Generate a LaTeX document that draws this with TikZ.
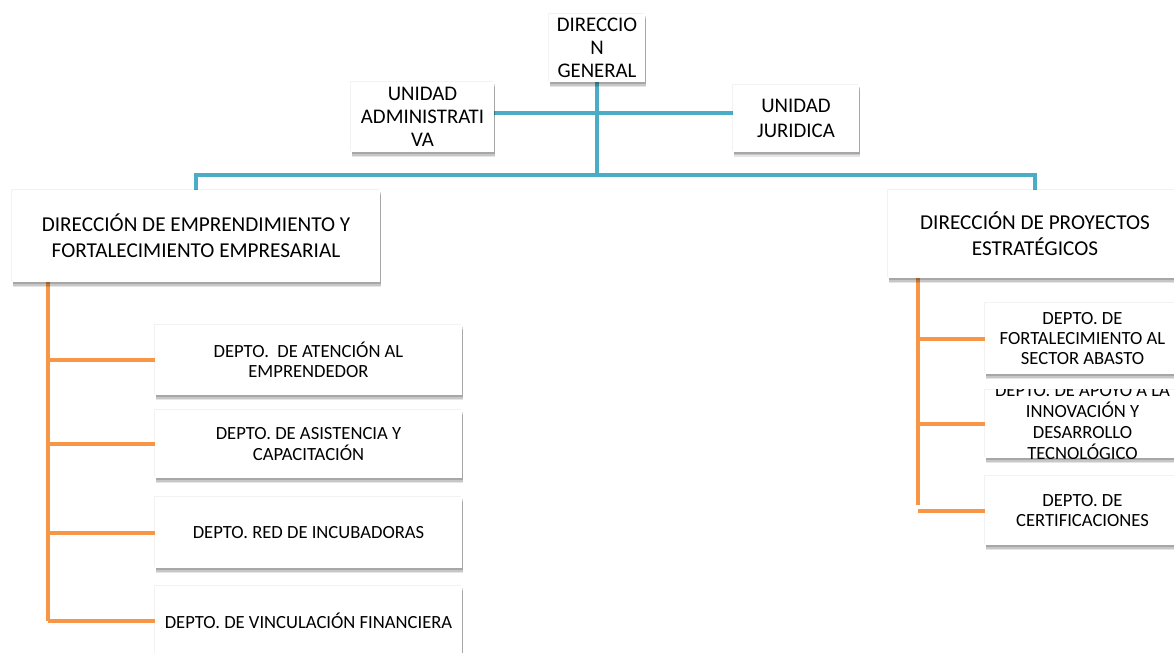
\documentclass[tikz,border=0pt]{standalone}
\usepackage{fontspec}
\setmainfont{Carlito}
\definecolor{cblue}{HTML}{4BACC6}
\definecolor{corange}{HTML}{F79646}
\tikzset{
  box/.style={fill=white, inner sep=0pt, align=center,
    preaction={fill=black, opacity=0.10, transform canvas={xshift=0.6pt, yshift=-2.6pt}},
    preaction={fill=black, opacity=0.13, transform canvas={xshift=0.45pt, yshift=-1.9pt}},
    preaction={fill=black, opacity=0.16, transform canvas={xshift=0.3pt, yshift=-1.2pt}},
    preaction={fill=black, opacity=0.05, transform canvas={xshift=-0.4pt, yshift=0.4pt}}},
  topbox/.style={box, font=\fontsize{10.4}{11.5}\selectfont},
  dirbox/.style={box, font=\fontsize{10.6}{13}\selectfont},
  depbox/.style={box, font=\fontsize{9.3}{10.2}\selectfont},
  bline/.style={draw=cblue, line width=2pt},
  oline/.style={draw=corange, line width=2pt},
}
\begin{document}
\begin{tikzpicture}[x=0.5pt, y=-0.5pt]
\useasboundingbox (0,0) rectangle (1174,653);
\clip (0,0) rectangle (1174,653);
\fill[white] (0,0) rectangle (1174,653);

% coordinates for buses
\coordinate (h) at (597,113);
\coordinate (bus) at (597,175);
\coordinate (ol) at (48,282);
\coordinate (or) at (918,278);

% connectors (drawn first, boxes over them)
\path[bline] (597,82) -- (bus);
\path[bline] (494,113) -- (733,113);
\path[bline] (196,190) |- (bus) -| (1035,190);
\path[oline] (ol) -- (48,621);
\path[oline] (or) -- (918,505);

% top level
\node[topbox, minimum width=48pt, minimum height=34pt] (DG) at (597,48) {DIRECCIO\\N\\GENERAL};
\node[topbox, minimum width=71.5pt, minimum height=35pt] (UA) at (422.5,117) {UNIDAD\\ADMINISTRATI\\VA};
\node[topbox, minimum width=63pt, minimum height=33.5pt] (UJ) at (796,118) {UNIDAD\\[1pt]JURIDICA};

% directions
\node[dirbox, minimum width=184pt, minimum height=46pt] (DE) at (196,236) {DIRECCIÓN DE EMPRENDIMIENTO Y\\FORTALECIMIENTO EMPRESARIAL};
\node[dirbox, minimum width=147pt, minimum height=44pt] (DP) at (1035,234) {DIRECCIÓN DE PROYECTOS\\ESTRATÉGICOS};

% left departments
\node[depbox, minimum width=153.5pt, minimum height=35pt] (D1) at (308.5,360) {DEPTO.~~DE ATENCIÓN AL\\EMPRENDEDOR};
\node[depbox, minimum width=153.5pt, minimum height=34pt] (D2) at (308.5,444) {DEPTO. DE ASISTENCIA Y\\CAPACITACIÓN};
\node[depbox, minimum width=153.5pt, minimum height=35.5pt] (D3) at (308.5,532.5) {DEPTO. RED DE INCUBADORAS};
\node[depbox, minimum width=153.5pt, minimum height=35pt] (D4) at (308.5,621) {DEPTO. DE VINCULACIÓN FINANCIERA};

% right departments
\node[depbox, minimum width=97.5pt, minimum height=34pt] (R2) at (1082.5,424) {};
\begin{scope}
  \clip (R2.north west) rectangle (R2.south east);
  \node[font=\fontsize{9.3}{10.4}\selectfont, align=center, inner sep=0pt] (R2t) at (1082.5,422) {DEPTO. DE APOYO A LA\\INNOVACIÓN Y\\DESARROLLO\\TECNOLÓGICO};
\end{scope}
\node[depbox, minimum width=97.5pt, minimum height=35.5pt] (R1) at (1082.5,338.5) {DEPTO. DE\\FORTALECIMIENTO AL\\SECTOR ABASTO};
\node[depbox, minimum width=97.5pt, minimum height=34.5pt] (R3) at (1082.5,510.5) {DEPTO. DE\\CERTIFICACIONES};

% branch connectors
\foreach \n in {D1,D2,D3,D4} \path[oline] (ol |- \n.west) -- (\n.west);
\foreach \n in {R1,R2,R3} \path[oline] (or |- \n.west) -- (\n.west);
\end{tikzpicture}
\end{document}
